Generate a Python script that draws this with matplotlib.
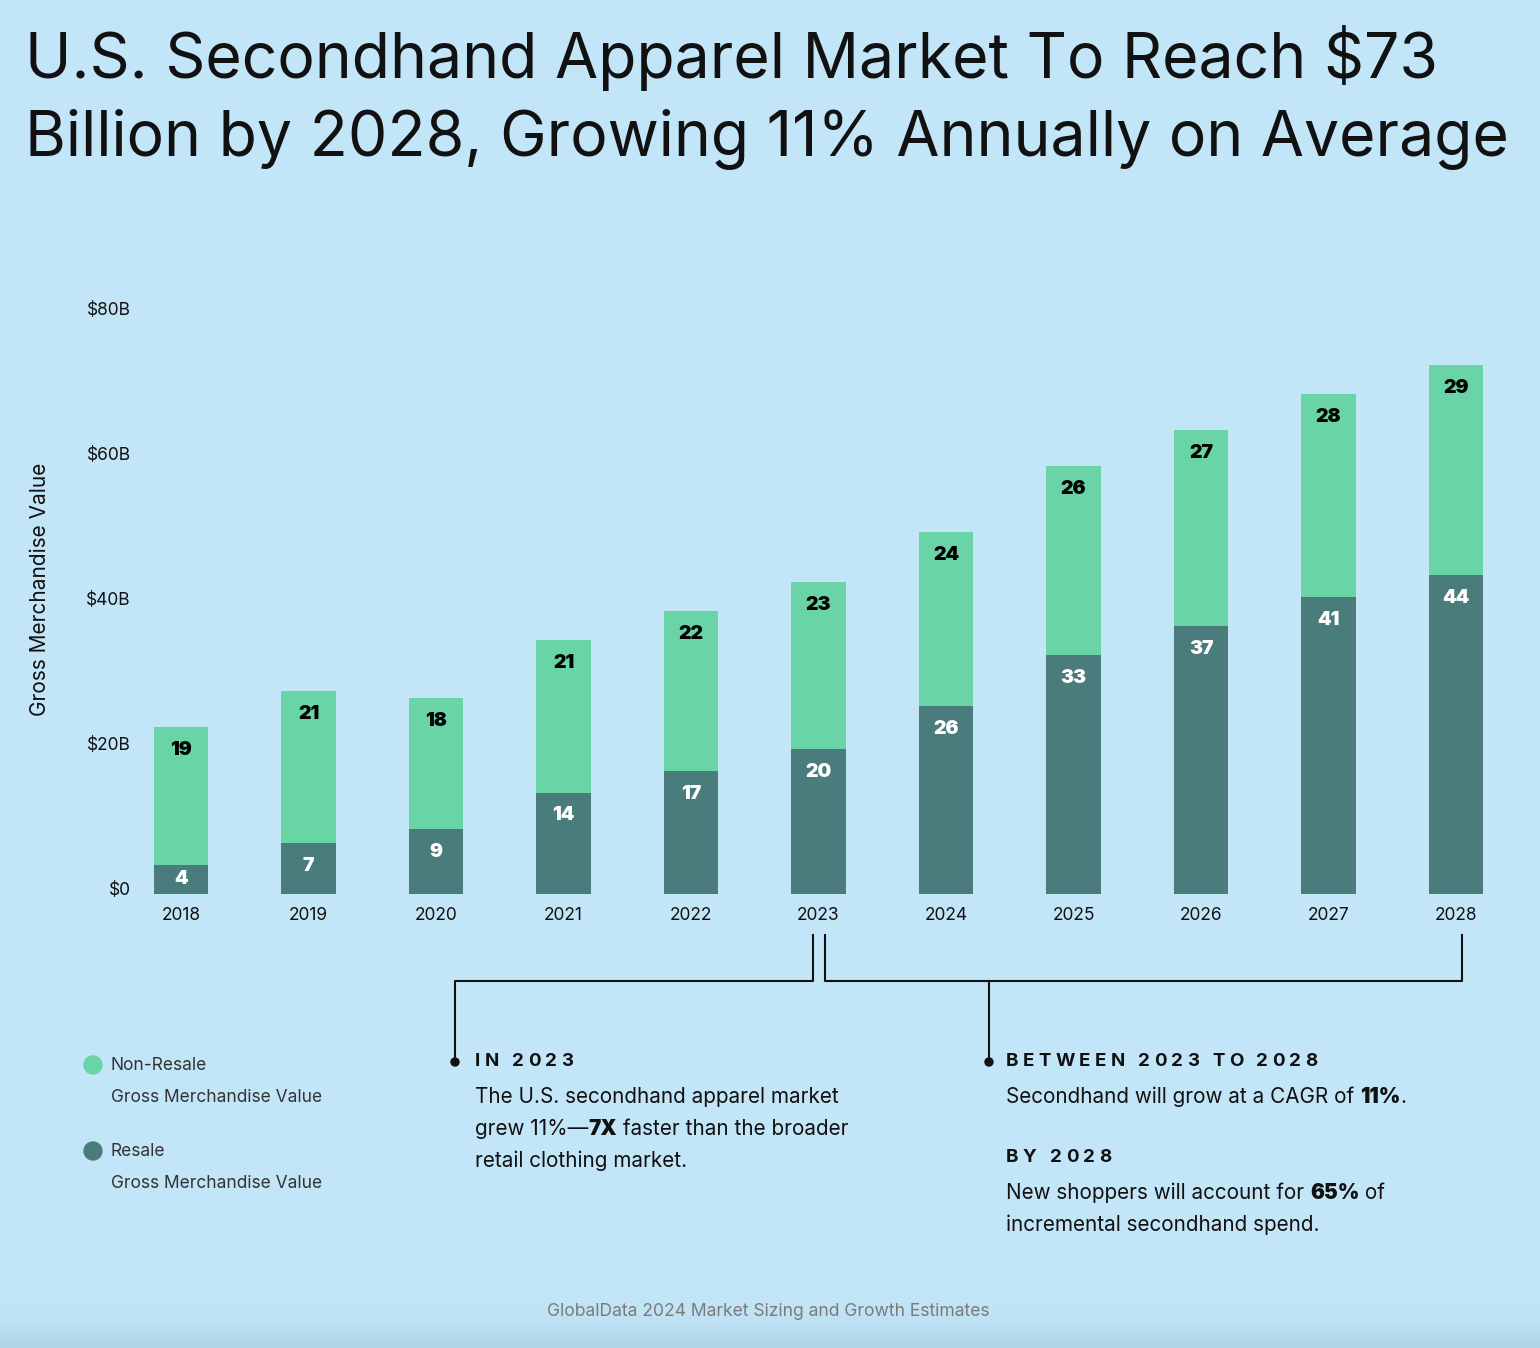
import matplotlib
matplotlib.use("Agg")
import matplotlib.pyplot as plt
import numpy as np
from matplotlib.transforms import IdentityTransform
from matplotlib.patches import Circle
from matplotlib.lines import Line2D
from matplotlib.colors import LinearSegmentedColormap

# data (billions USD)
years = ["2018", "2019", "2020", "2021", "2022", "2023", "2024", "2025", "2026", "2027", "2028"]
resale = [4, 7, 9, 14, 17, 20, 26, 33, 37, 41, 44]
non_resale = [19, 21, 18, 21, 22, 23, 24, 26, 27, 28, 29]
ytick_vals = [0, 20, 40, 60, 80]
ytick_labels = ["$0", "$20B", "$40B", "$60B", "$80B"]

BG = "#c3e5f8"
GREEN = "#69d4a6"
TEAL = "#4a7c7b"
INK = "#111111"
FONT = ["Inter", "DejaVu Sans"]
plt.rcParams["font.family"] = FONT

W, H = 1540, 1348
fig = plt.figure(figsize=(W / 100, H / 100), dpi=100)
fig.patch.set_facecolor(BG)
px = IdentityTransform()

# subtle darker band at the very bottom
gax = fig.add_axes([0, 0, 1, 55 / H], zorder=-1)
cmap = LinearSegmentedColormap.from_list("g", [BG, "#b1d3e7"])
gax.imshow(np.linspace(0, 1, 60)[:, None] ** 2, cmap=cmap, aspect="auto")
gax.axis("off")

# main bar axes
ax_l, ax_r, ax_t, ax_b = 140, 1500, 314, 894
ax = fig.add_axes([ax_l / W, (H - ax_b) / H, (ax_r - ax_l) / W, (ax_b - ax_t) / H])
ax.set_facecolor("none")
x = np.arange(len(years))
ax.bar(x, resale, width=0.424, color=TEAL)
ax.bar(x, non_resale, width=0.424, bottom=resale, color=GREEN)
ax.set_xlim(-0.3216, 10.345)
ax.set_ylim(0, 80)
for s in ax.spines.values():
    s.set_visible(False)
ax.set_yticks([])
ax.set_xticks(x, years)
ax.tick_params(axis="x", length=0, pad=9, labelsize=12.5, labelcolor=INK)

for v, lbl in zip(ytick_vals, ytick_labels):
    ax.annotate(lbl, xy=(0, v), xycoords=ax.get_yaxis_transform(),
                xytext=(-6.5, 2.5), textcoords="offset points",
                ha="right", va="center", fontsize=12.5, color=INK)

pxb = (ax_b - ax_t) / 80.0  # pixels per billion
for i in range(len(years)):
    for base, v, col in [(0, resale[i], "white"), (resale[i], non_resale[i], "black")]:
        off = min(23, v * pxb / 2) * 0.72
        ax.annotate(str(v), xy=(i, base + v), xytext=(0, -off), textcoords="offset points",
                    ha="center", va="center", fontsize=14, fontweight="black", color=col)

fig.text(40, H - 589, "Gross Merchandise Value", transform=px, rotation=90,
         ha="center", va="center", fontsize=15, color=INK)

# title
fig.text(25, H - 78, "U.S. Secondhand Apparel Market To Reach $73", transform=px,
         fontsize=45, color=INK, va="baseline")
fig.text(25, H - 155, "Billion by 2028, Growing 11% Annually on Average", transform=px,
         fontsize=45, color=INK, va="baseline")

# brackets
def path(xs, ys):
    fig.add_artist(Line2D(xs, [H - y for y in ys], transform=px, color=INK, lw=1.5))

path([813, 813, 455, 455], [935, 981, 981, 1062])
path([825, 825, 1462, 1462], [935, 981, 981, 935])
path([989, 989], [981, 1062])
for cx in [455, 989]:
    fig.add_artist(Circle((cx, H - 1062), 4, transform=px, color=INK))

renderer = fig.canvas.get_renderer()

def runs(x0, y, parts, size, tracking=0.0, color=INK):
    xx = x0
    for s, w in parts:
        pieces = list(s) if tracking else [s]
        for p in pieces:
            t = fig.text(xx, H - y, p, transform=px, fontsize=size, fontweight=w,
                         color=color, va="center")
            xx += t.get_window_extent(renderer).width + tracking

# left note
runs(475, 1061, [("IN 2023", "bold")], 13.5, tracking=4.3)
runs(475, 1097, [("The U.S. secondhand apparel market", "normal")], 14.9)
runs(475, 1129, [("grew 11%\u2014", "normal"), ("7X", "black"), (" faster than the broader", "normal")], 14.9)
runs(475, 1161, [("retail clothing market.", "normal")], 14.9)

# right notes
runs(1006, 1061, [("BETWEEN 2023 TO 2028", "bold")], 13.5, tracking=4.3)
runs(1006, 1097, [("Secondhand will grow at a CAGR of ", "normal"), ("11%", "black"), (".", "normal")], 14.9)
runs(1006, 1157, [("BY 2028", "bold")], 13.5, tracking=4.3)
runs(1006, 1193, [("New shoppers will account for ", "normal"), ("65%", "black"), (" of", "normal")], 14.9)
runs(1006, 1225, [("incremental secondhand spend.", "normal")], 14.9)

# legend
for cy, col, name in [(1065, GREEN, "Non-Resale"), (1151, TEAL, "Resale")]:
    fig.add_artist(Circle((93, H - cy), 9, transform=px, color=col))
    fig.text(111, H - cy, name, transform=px, va="center", fontsize=12.5, color="#333333")
    fig.text(111, H - cy - 32, "Gross Merchandise Value", transform=px, va="center",
             fontsize=12.5, color="#333333")

fig.text(768, H - 1312, "GlobalData 2024 Market Sizing and Growth Estimates", transform=px,
         ha="center", va="center", fontsize=12.6, color="#7b7b7b")

fig.savefig("out.png", dpi=100, facecolor=BG)
